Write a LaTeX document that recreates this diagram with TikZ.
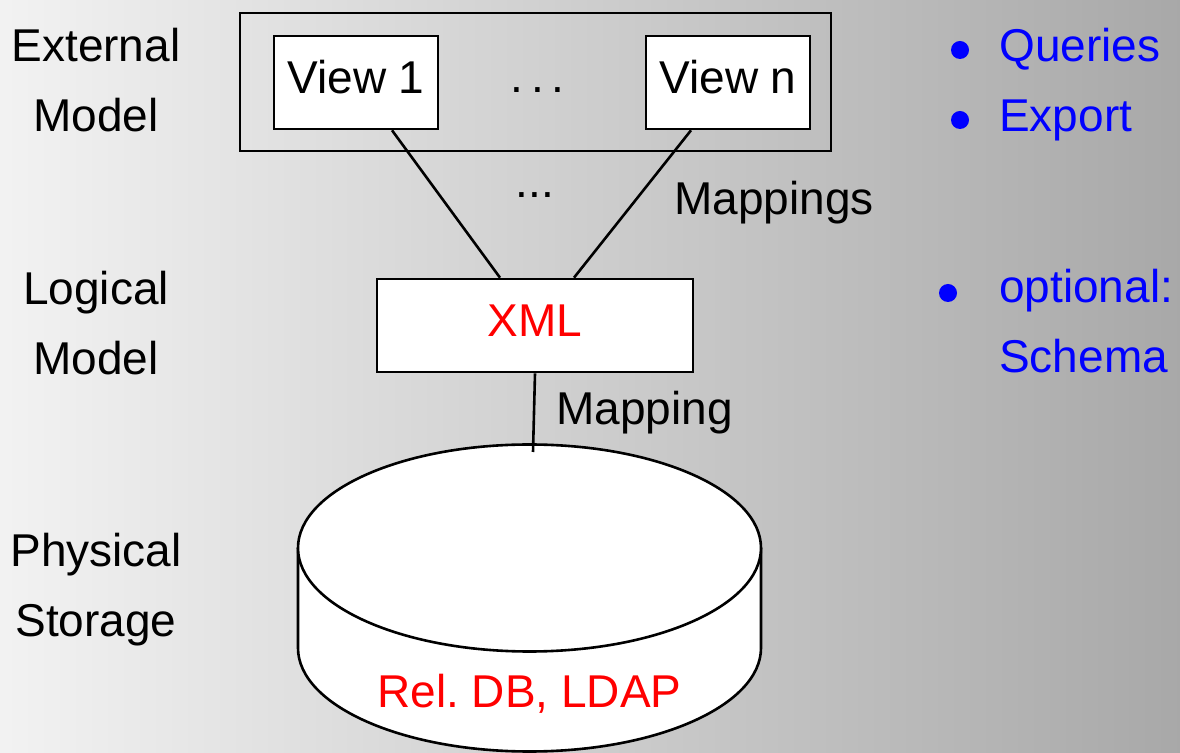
\documentclass[tikz,border=0pt]{standalone}
\usepackage{fontspec}
\setmainfont{Liberation Sans}
\begin{document}
\begin{tikzpicture}[x=1pt,y=1pt,
        every node/.style={font=\fontsize{46}{70}\selectfont, inner sep=0pt},
        box/.style={draw, fill=white, line width=2.6pt, minimum height=93pt,
            text height=33pt, text depth=11pt},
        side/.style={align=center, anchor=base},
        note/.style={text=blue, anchor=base west}]
        % Background
        \useasboundingbox (0,0) rectangle (1180,752);
        \shade[left color=black!5, right color=black!34] (0,0) rectangle (1180,752);

        % Layer names (anchor = baseline of the last line)
        \node[side] (ext_lbl) at (96,620) {External\\Model};
        \node[side] (log_lbl) at (96,377) {Logical\\Model};
        \node[side] (phy_lbl) at (96,115) {Physical\\Storage};

        % External model
        \draw[line width=2.6pt] (240,601) rectangle (831,739);
        \node[box, minimum width=164pt] (v1) at (356,669.5) {View 1};
        \node[box, minimum width=164pt] (vn) at (728,669.5) {View n};
        \node[anchor=base] (vdots) at (537.5,659) {.\kern.1667em.\kern.1667em.};

        % Logical model
        \node[box, minimum width=316pt, text=red] (xml) at (535,426.5) {XML};

        % Physical storage
        \draw[fill=white, line width=2.6pt] (298,204) -- (298,104)
            arc[start angle=180, end angle=360, x radius=231.5, y radius=103.5] -- (761,204);
        \draw[fill=white, line width=2.6pt] (529.5,204) ellipse [x radius=231.5, y radius=103.5];
        \coordinate (db_top) at (533,300);
        \node[anchor=base, text=red] (db) at (529.5,45) {Rel.\ DB, LDAP};

        % Mappings
        \draw[line width=2.6pt] ([xshift=36pt]v1.south) -- ([xshift=-35pt]xml.north);
        \draw[line width=2.6pt] ([xshift=-37pt]vn.south) -- ([xshift=39pt]xml.north);
        \draw[line width=2.6pt] (xml.south) -- (db_top);
        \node[anchor=base] (mdots) at (535,554) {...};
        \node[anchor=base west] (maps) at (674,537) {Mappings};
        \node[anchor=base west] (map) at (556,327) {Mapping};

        % Notes
        \foreach \y/\txt in {690/Queries, 620/Export}
           {
                \fill[blue] (960,\y+12) circle (9);
                \node[note] at (999,\y) {\txt};
           }
        \fill[blue] (948,459) circle (9);
        \node[note, align=left] (opt) at (999,379) {optional:\\Schema};
    \end{tikzpicture}
\end{document}
